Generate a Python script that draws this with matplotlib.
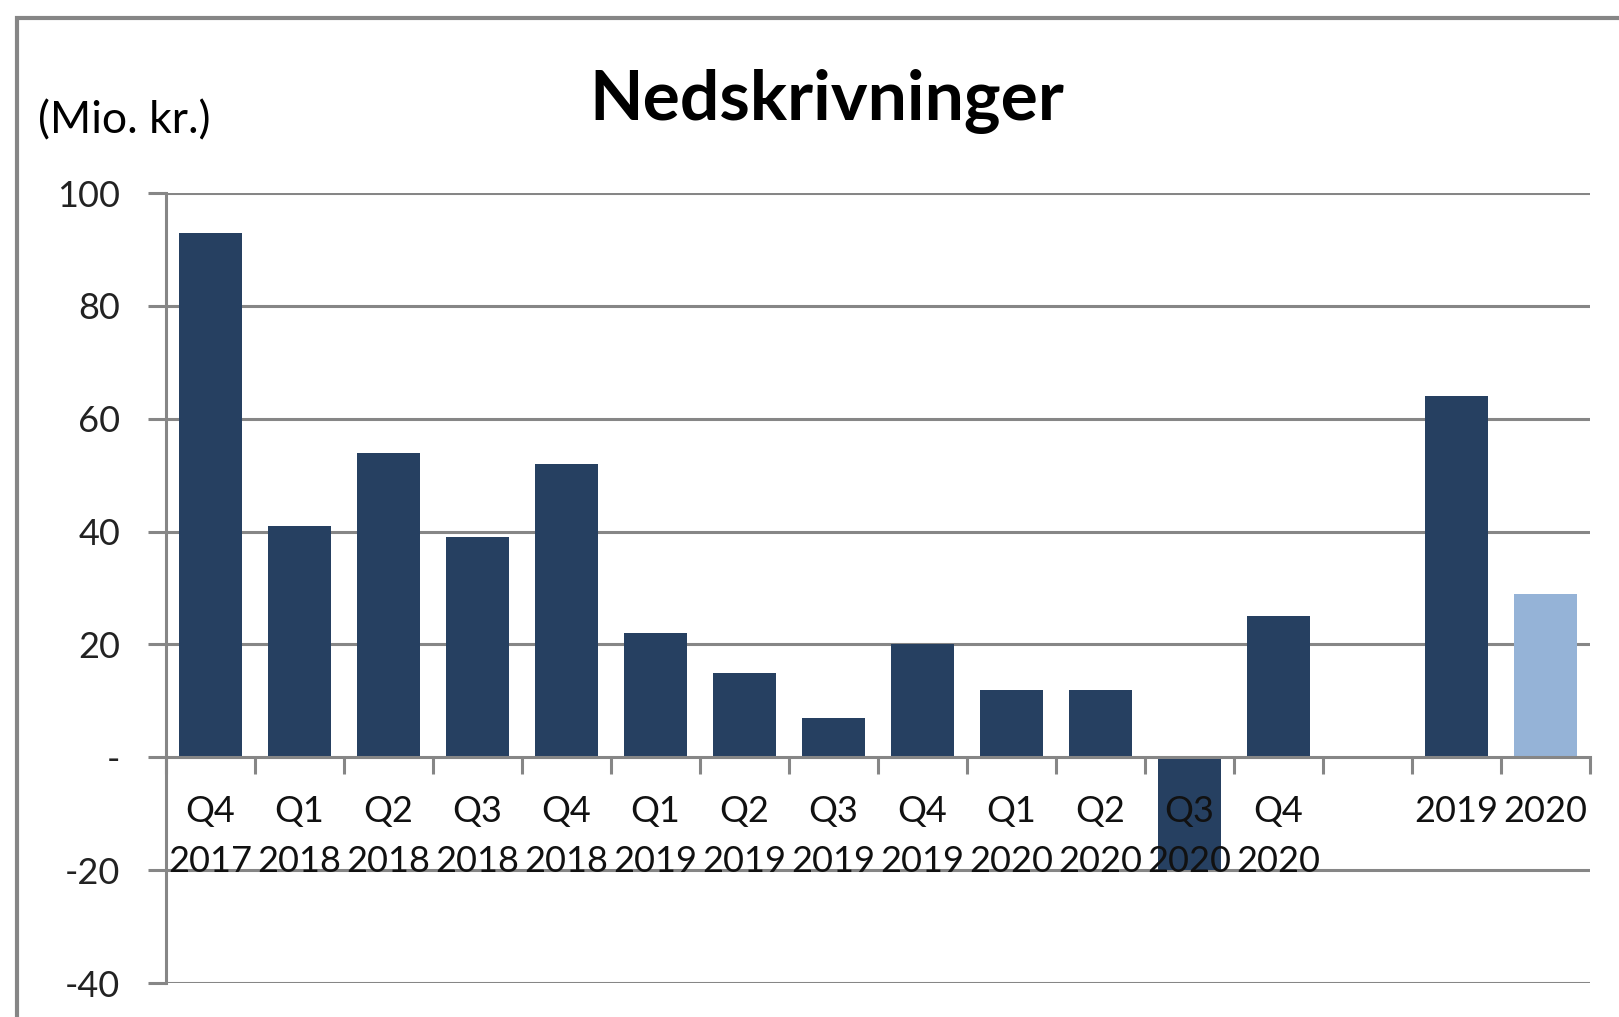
#---Bar chart: Nedskrivninger (quarterly + annual)---------------------------------------------
import matplotlib.pyplot as plt
import matplotlib.patches as mpatches
import numpy as np

#---Data---------------------------------------------------------------------------------------
categories = ['Q4\n2017', 'Q1\n2018', 'Q2\n2018', 'Q3\n2018', 'Q4\n2018',
              'Q1\n2019', 'Q2\n2019', 'Q3\n2019', 'Q4\n2019',
              'Q1\n2020', 'Q2\n2020', 'Q3\n2020', 'Q4\n2020',
              '', '2019', '2020']
values = [93, 41, 54, 39, 52, 22, 15, 7, 20, 12, 12, -20, 25, np.nan, 64, 29]
bar_colors = ['#264061'] * 15 + ['#95B3D7']
yticks = [-40, -20, 0, 20, 40, 60, 80, 100]
ytick_labels = ['-40', '-20', '-', '20', '40', '60', '80', '100']

#---Style----------------------------------------------------------------------------------------
plt.rcParams['font.family'] = ['Lato', 'DejaVu Sans']
grey = '#868686'
lw = 2.2

fg = plt.figure(figsize=(16.19, 10.17), dpi=100)
ax = fg.add_axes([0.1025, 0.0334, 0.8795, 0.7768])

# outer chart frame (cropped at right/bottom)
fg.patches.append(mpatches.Rectangle((17 / 1619, -0.05), 1.2, 1 - 18 / 1017 + 0.05,
                                     transform=fg.transFigure, fill=False,
                                     edgecolor=grey, linewidth=3))

x = np.arange(len(categories))
vals = np.array(values, dtype=float)
ax.bar(x, np.nan_to_num(vals), width=0.7, color=bar_colors, zorder=1)

#---Axes---------------------------------------------------------------------------------------
ax.set_xlim(-0.5, len(categories) - 0.5)
ax.set_ylim(-40, 100)
for yv in yticks:
    if yv != 0:
        ax.axhline(yv, color=grey, linewidth=lw, zorder=0.5)

for s in ['top', 'right']:
    ax.spines[s].set_visible(False)
ax.spines['left'].set_color(grey)
ax.spines['left'].set_linewidth(lw)
ax.spines['bottom'].set_position(('data', 0))
ax.spines['bottom'].set_color(grey)
ax.spines['bottom'].set_linewidth(lw)

ax.set_yticks(yticks)
ax.set_yticklabels(ytick_labels, fontsize=26, color='#222222')
ax.tick_params(axis='y', length=13, width=lw, color=grey, pad=20)

ax.set_xticks(x)
ax.set_xticklabels(categories, fontsize=26, color='#111111', linespacing=1.62)
ax.set_xticks(np.arange(len(categories) + 1) - 0.5, minor=True)
ax.tick_params(axis='x', which='major', length=0, pad=27)
ax.tick_params(axis='x', which='minor', length=12, width=lw, color=grey)

#---Texts----------------------------------------------------------------------------------------
fg.text(827 / 1619, 1 - 101 / 1017, 'Nedskrivninger', fontsize=50, fontweight='bold',
        ha='center', va='center')
fg.text(38 / 1619, 1 - 121 / 1017, '(Mio. kr.)', fontsize=32, ha='left', va='center')

plt.savefig('out.png', dpi=100)
